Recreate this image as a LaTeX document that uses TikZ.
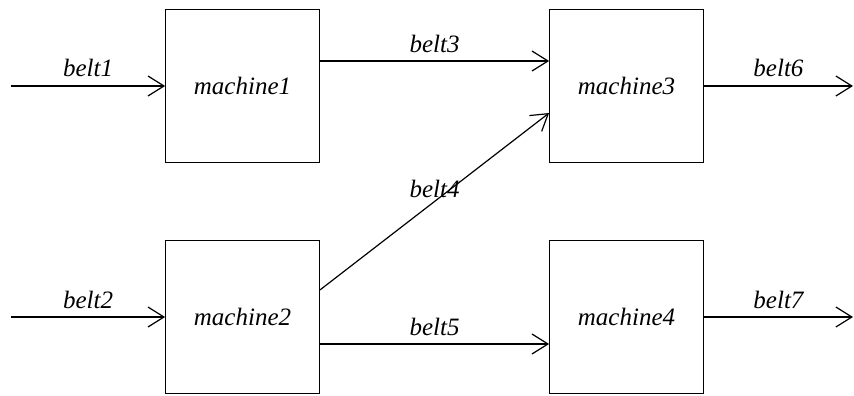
\documentclass[tikz,border=0pt]{standalone}
\usepackage{fontspec}
\setmainfont{Liberation Serif}
\usetikzlibrary{arrows.meta}
\begin{document}
\begin{tikzpicture}[x=1pt,y=1pt,
  machinebox/.style={draw, line width=0.8pt, rectangle, inner sep=0pt,
    minimum width=154pt, minimum height=153pt, font=\fontsize{25}{29}\selectfont\itshape},
  belt/.style={line width=1.2pt, -{Straight Barb[length=16pt,width=20pt,line width=1.2pt]}},
  beltlabel/.style={inner sep=0pt, anchor=base, font=\fontsize{25}{29}\selectfont\itshape}]
\useasboundingbox (0,0) rectangle (854,-396);
\node[machinebox] (m1) at (242.5,-86) {machine1};
\node[machinebox] (m3) at (626.5,-86) {machine3};
\node[machinebox] (m2) at (242.5,-317) {machine2};
\node[machinebox] (m4) at (626.5,-317) {machine4};
\coordinate (in1) at (11,-86);
\coordinate (in2) at (11,-317);
\coordinate (out6) at (853,-86);
\coordinate (out7) at (853,-317);
\draw[belt] (in1) -- node[beltlabel, pos=0.5, yshift=9pt] {belt1} (m1.west);
\draw[belt] (in2) -- node[beltlabel, pos=0.5, yshift=9pt] {belt2} (m2.west);
\draw[belt] ([yshift=25pt]m1.east) -- node[beltlabel, pos=0.5, yshift=8pt] {belt3} ([yshift=25pt]m3.west);
\draw[belt] ([yshift=27pt]m2.east) -- node[beltlabel, pos=0.5, yshift=4.5pt] {belt4} ([yshift=-27pt]m3.west);
\draw[belt] ([yshift=-27pt]m2.east) -- node[beltlabel, pos=0.5, yshift=9pt] {belt5} ([yshift=-27pt]m4.west);
\draw[belt] (m3.east) -- node[beltlabel, pos=0.5, yshift=9pt] {belt6} (out6);
\draw[belt] (m4.east) -- node[beltlabel, pos=0.5, yshift=9pt] {belt7} (out7);
\end{tikzpicture}
\end{document}
